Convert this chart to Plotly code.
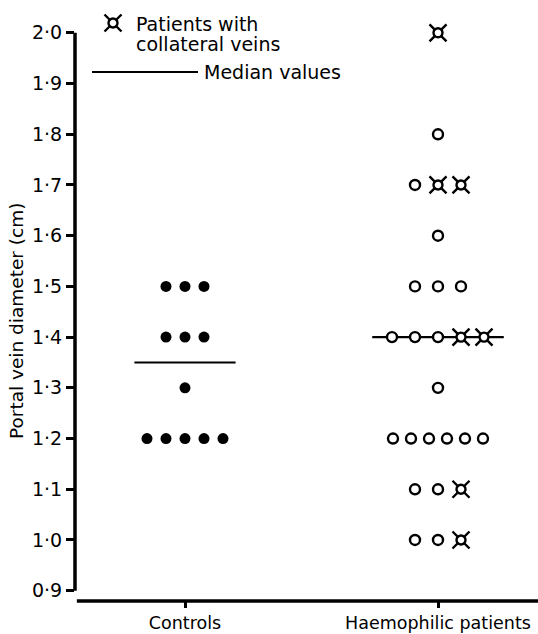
import numpy as np
import plotly.graph_objects as go

# ---- data ----
categories = ["Controls", "Haemophilic patients"]
controls_values = [1.5, 1.5, 1.5, 1.4, 1.4, 1.4, 1.3, 1.2, 1.2, 1.2, 1.2, 1.2]
haemo_values = [2.0, 1.8, 1.7, 1.7, 1.7, 1.6, 1.5, 1.5, 1.5,
                1.4, 1.4, 1.4, 1.4, 1.4, 1.3,
                1.2, 1.2, 1.2, 1.2, 1.2, 1.2,
                1.1, 1.1, 1.1, 1.0, 1.0, 1.0]
haemo_collateral = [1, 0, 0, 1, 1, 0, 0, 0, 0,
                    0, 0, 0, 1, 1, 0,
                    0, 0, 0, 0, 0, 0,
                    0, 0, 1, 0, 0, 1]
y_tickvals = [0.9, 1.0, 1.1, 1.2, 1.3, 1.4, 1.5, 1.6, 1.7, 1.8, 1.9, 2.0]
y_ticktext = ["0·9", "1·0", "1·1", "1·2", "1·3", "1·4", "1·5", "1·6", "1·7", "1·8", "1·9", "2·0"]

# ---- layout geometry ----
W, H = 538, 634
ML, MR, MT, MB = 75, 0, 10, 33
plot_w = W - ML - MR
plot_h = H - MT - MB
x_range = [-110 / 253, 1 + 100 / 253]
y_range = [0.8797, 2.045]
px_per_x = plot_w / (x_range[1] - x_range[0])

FONT = "DejaVu Sans"
FS = 19


def dodge(values, center, step_fn):
    vals = np.array(values)
    xs = np.zeros(len(vals))
    for v in np.unique(vals):
        idx = np.where(np.isclose(vals, v))[0]
        n = len(idx)
        step = step_fn(n) / px_per_x
        for k, i in enumerate(idx):
            xs[i] = center + (k - (n - 1) / 2) * step
    return xs


cx = {c: i for i, c in enumerate(categories)}
ctrl_x = dodge(controls_values, cx["Controls"], lambda n: 19.0)
haemo_x = dodge(haemo_values, cx["Haemophilic patients"], lambda n: 18.0 if n >= 6 else 23.0)

ctrl_med = float(np.median(controls_values))
haemo_med = float(np.median(haemo_values))

hv = np.array(haemo_values)
hc = np.array(haemo_collateral, dtype=bool)

fig = go.Figure()

# median lines
for c, med, hw in [("Controls", ctrl_med, 0.2), ("Haemophilic patients", haemo_med, 0.26)]:
    fig.add_trace(go.Scatter(x=[cx[c] - hw, cx[c] + hw], y=[med, med], mode="lines",
                             line=dict(color="black", width=2.2), hoverinfo="skip",
                             showlegend=False))

# controls: filled dots
fig.add_trace(go.Scatter(x=ctrl_x, y=controls_values, mode="markers",
                         marker=dict(symbol="circle", size=11, color="black"),
                         showlegend=False))

# haemophilic without collateral veins: open circles
fig.add_trace(go.Scatter(x=haemo_x[~hc], y=hv[~hc], mode="markers",
                         marker=dict(symbol="circle", size=10, color="white",
                                     line=dict(color="black", width=2.4)),
                         showlegend=False))

# haemophilic with collateral veins: spikes + circle
coll_marker_layers = [
    dict(symbol="x-thin-open", size=17, color="black", line=dict(color="black", width=2.4)),
    dict(symbol="circle", size=9, color="white", line=dict(color="black", width=2.4)),
]
for m in coll_marker_layers:
    fig.add_trace(go.Scatter(x=haemo_x[hc], y=hv[hc], mode="markers", marker=m,
                             showlegend=False))


def px2paper(px, py):
    return (px - ML) / plot_w, (H - MB - py) / plot_h


# legend symbol on an overlay axis
lx, ly = px2paper(113, 23)
for m in coll_marker_layers:
    fig.add_trace(go.Scatter(x=[lx], y=[ly], mode="markers", marker=m, xaxis="x2", yaxis="y2",
                             showlegend=False, cliponaxis=False, hoverinfo="skip"))

ann = []
tx, ty1 = px2paper(134, 24)
_, ty2 = px2paper(134, 44)
ann.append(dict(x=tx, y=ty1, xref="paper", yref="paper", text="Patients with",
                showarrow=False, xanchor="left", yanchor="middle",
                font=dict(family=FONT, size=FS, color="black")))
ann.append(dict(x=tx, y=ty2, xref="paper", yref="paper", text="collateral veins",
                showarrow=False, xanchor="left", yanchor="middle",
                font=dict(family=FONT, size=FS, color="black")))
l0x, lmy = px2paper(92, 72)
l1x, _ = px2paper(198, 72)
mtx, _ = px2paper(202, 72)
ann.append(dict(x=mtx, y=lmy, xref="paper", yref="paper", text="Median values",
                showarrow=False, xanchor="left", yanchor="middle",
                font=dict(family=FONT, size=FS, color="black")))
atx, aty = px2paper(16, 321)
ann.append(dict(x=atx, y=aty, xref="paper", yref="paper", text="Portal vein diameter (cm)",
                showarrow=False, xanchor="center", yanchor="middle", textangle=-90,
                font=dict(family=FONT, size=18.5, color="black")))

shapes = [
    # median legend line
    dict(type="line", xref="paper", yref="paper", x0=l0x, x1=l1x, y0=lmy, y1=lmy,
         line=dict(color="black", width=2.2)),
    # y axis line (0.9 to 2.0)
    dict(type="line", xref="paper", yref="y", x0=0, x1=0, y0=min(y_tickvals), y1=max(y_tickvals),
         line=dict(color="black", width=3.5)),
    # x axis line
    dict(type="line", xref="paper", yref="paper", x0=0.004, x1=1, y0=0, y1=0,
         line=dict(color="black", width=3.5)),
]

fig.update_layout(
    width=W, height=H,
    margin=dict(l=ML, r=MR, t=MT, b=MB, autoexpand=False),
    paper_bgcolor="white", plot_bgcolor="white",
    font=dict(family=FONT, size=FS, color="black"),
    showlegend=False,
    annotations=ann, shapes=shapes,
    xaxis=dict(range=x_range, tickvals=[0, 1], ticktext=categories, showgrid=False,
               zeroline=False, showline=False, ticks="outside", ticklen=6, tickwidth=2.5,
               tickcolor="black", automargin=False, ticklabeloverflow="allow",
               tickfont=dict(family=FONT, size=17.5, color="black")),
    yaxis=dict(range=y_range, tickvals=y_tickvals, ticktext=y_ticktext, showgrid=False,
               zeroline=False, showline=False, ticks="outside", ticklen=8, tickwidth=2.5,
               tickcolor="black", automargin=False,
               tickfont=dict(family=FONT, size=FS, color="black")),
    xaxis2=dict(range=[0, 1], overlaying="x", visible=False, anchor="y2"),
    yaxis2=dict(range=[0, 1], overlaying="y", visible=False, anchor="x2"),
)

fig.write_html("out.html", config={"displayModeBar": False},
               post_script="document.body.style.margin='0';")
